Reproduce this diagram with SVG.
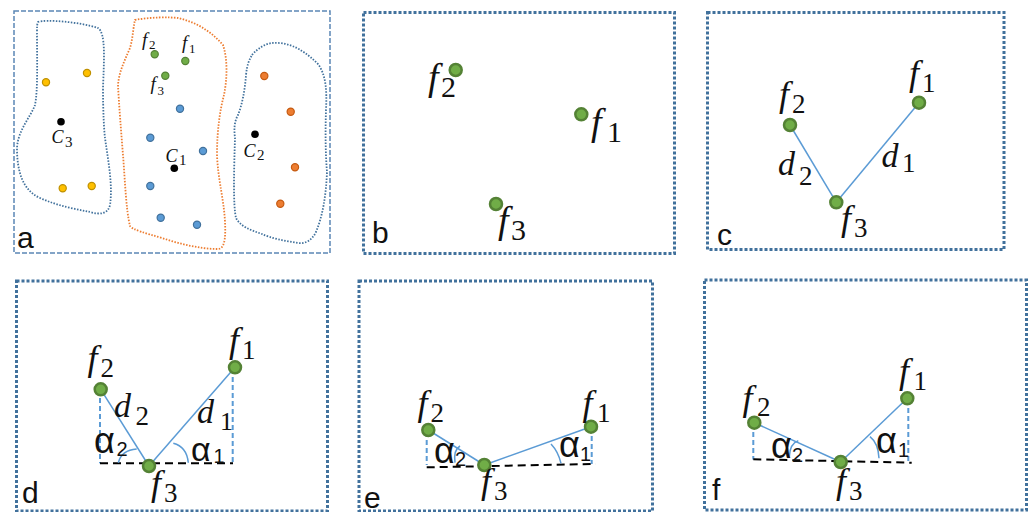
<svg xmlns="http://www.w3.org/2000/svg" width="1032" height="512" viewBox="0 0 1032 512">
<style>
.bg{fill:#fff}
.mf{font-family:"Liberation Serif",serif;font-style:italic;fill:#111}
.sb{font-family:"Liberation Serif",serif;fill:#111}
.al{font-family:"Liberation Sans",sans-serif;fill:#111}
.pl{font-family:"Liberation Sans",sans-serif;font-size:30px;fill:#111}
.frame{fill:none;stroke:#41719C;stroke-width:3;stroke-dasharray:3 2}
.framea{fill:none;stroke:#5B87B5;stroke-width:1.5;stroke-dasharray:5 2}
.pt{fill:#70AD47;stroke:#548235;stroke-width:2.5}
.pa{stroke-width:1.2}
.edge{stroke:#5B9BD5;stroke-width:1.5;fill:none}
.vd{stroke:#5B9BD5;stroke-width:2;stroke-dasharray:5 3}
.hd{stroke:#000;stroke-width:2;stroke-dasharray:8 5}
.arc{fill:none;stroke:#5B9BD5;stroke-width:1.5}
.blobb{fill:none;stroke:#41719C;stroke-width:1.8;stroke-dasharray:1.5 1.5}
.blobo{fill:none;stroke:#ED7D31;stroke-width:1.8;stroke-dasharray:1.5 1.5}
.y{fill:#FFC000;stroke:#BF9000}
.bl{fill:#5B9BD5;stroke:#41719C}
.o{fill:#ED7D31;stroke:#C55A11}
.g{fill:#70AD47;stroke:#548235}
.k{fill:#000}
</style>
<rect class="bg" x="0" y="0" width="1032" height="512"/>

<!-- Panel a -->
<g id="panel-a">
<rect class="framea" x="14" y="11" width="316" height="242"/>
<path class="blobb" d="M38,22 C45,19 80,22 98,28 C106,33 104,60 103,88 C103,110 104,130 105,138 C108,160 113,185 110,205 C108,214 100,215 90,212 C75,209 58,206 40,198 C22,190 17,170 17,148 C18,130 30,118 35,105 C38,90 37,60 37,32 C37,27 37,24 38,22 Z"/>
<path class="blobo" d="M135,20 C150,17 170,17 178,18 C195,22 210,30 223,45 C228,60 227,80 224,95 C220,110 217,130 217,155 C218,180 224,200 225,222 C226,240 224,249 218,249 C200,249 180,244 162,238 C145,233 133,230 130,226 C126,210 125,180 123,155 C121,130 119,105 118,85 C119,72 124,62 130,48 C133,38 133,28 135,20 Z"/>
<path class="blobb" d="M252,55 C258,48 265,44 272,43 C285,42 300,46 318,64 C326,75 327,90 326,110 C325,140 326,160 327,172 C326,195 323,215 316,232 C312,240 306,244 298,243 C285,241 270,238 262,234 C250,230 240,226 236,218 C233,205 234,170 235,138 C234,130 234,122 238,115 C242,105 245,90 246,75 C247,65 249,60 252,55 Z"/>
<g id="a-dots">
<circle class="y pa" cx="46" cy="82.3" r="3.6"/>
<circle class="y pa" cx="87" cy="73" r="3.6"/>
<circle class="y pa" cx="62.7" cy="188.3" r="3.6"/>
<circle class="y pa" cx="91.7" cy="186" r="3.6"/>
<circle class="bl pa" cx="180" cy="108.7" r="3.6"/>
<circle class="bl pa" cx="150.3" cy="137.7" r="3.6"/>
<circle class="bl pa" cx="203" cy="151" r="3.6"/>
<circle class="bl pa" cx="150.3" cy="186" r="3.6"/>
<circle class="bl pa" cx="160.7" cy="217.7" r="3.6"/>
<circle class="bl pa" cx="197" cy="224.7" r="3.6"/>
<circle class="o pa" cx="264.3" cy="76" r="3.6"/>
<circle class="o pa" cx="290.7" cy="111.7" r="3.6"/>
<circle class="o pa" cx="295" cy="167.3" r="3.6"/>
<circle class="o pa" cx="280.3" cy="203.7" r="3.6"/>
</g>
<g id="a-f2"><circle class="g pa" cx="154.7" cy="54.3" r="3.6"/><text class="mf" x="142" y="46" font-size="19">f</text><text class="sb" x="149" y="48.5" font-size="13">2</text></g>
<g id="a-f1"><circle class="g pa" cx="185.3" cy="61" r="3.6"/><text class="mf" x="182" y="49" font-size="19">f</text><text class="sb" x="189" y="53" font-size="13">1</text></g>
<g id="a-f3"><circle class="g pa" cx="165.3" cy="75.7" r="3.6"/><text class="mf" x="150.5" y="90" font-size="19">f</text><text class="sb" x="157.5" y="94.5" font-size="13">3</text></g>
<g id="a-c3"><circle class="k" cx="61" cy="121.7" r="3.8"/><text class="mf" x="51.5" y="143" font-size="18">C</text><text class="sb" x="65" y="147" font-size="15">3</text></g>
<g id="a-c1"><circle class="k" cx="174.3" cy="168.3" r="3.8"/><text class="mf" x="165.5" y="161.5" font-size="18">C</text><text class="sb" x="179" y="165" font-size="15">1</text></g>
<g id="a-c2"><circle class="k" cx="255" cy="134.3" r="3.8"/><text class="mf" x="243.5" y="156.5" font-size="18">C</text><text class="sb" x="257" y="160" font-size="15">2</text></g>
<text class="pl" x="17" y="248">a</text>
</g>

<!-- Panel b -->
<g id="panel-b">
<rect class="frame" x="363.5" y="12.5" width="311" height="241"/>
<text class="pl" x="372" y="243">b</text>
<g id="b-f2"><circle class="pt" cx="455.7" cy="70" r="6"/><text class="mf" x="428" y="90" font-size="38">f</text><text class="sb" x="441" y="96.5" font-size="30">2</text></g>
<g id="b-f1"><circle class="pt" cx="581.3" cy="114.3" r="6"/><text class="mf" x="591" y="135" font-size="38">f</text><text class="sb" x="607" y="142" font-size="30">1</text></g>
<g id="b-f3"><circle class="pt" cx="496" cy="204" r="6"/><text class="mf" x="498" y="233" font-size="38">f</text><text class="sb" x="511" y="240" font-size="30">3</text></g>
</g>

<!-- Connectors -->
<g id="connectors">
<line class="edge" x1="790" y1="125" x2="836.3" y2="202.3"/>
<line class="edge" x1="836.3" y1="202.3" x2="919" y2="102.7"/>

<line class="vd" x1="100" y1="390" x2="100" y2="463.3"/>
<line class="vd" x1="232.7" y1="369" x2="232.7" y2="463.3"/>
<line class="hd" x1="100" y1="463.3" x2="233" y2="463.3"/>
<line class="edge" x1="100.7" y1="389.3" x2="149" y2="466"/>
<line class="edge" x1="149" y1="466" x2="235" y2="367.3"/>
<path class="arc" d="M118.3,462.7 Q121.7,450 136.7,449"/>
<path class="arc" d="M188.3,462.7 Q186.7,446.7 173.3,443.3"/>

<line class="vd" x1="426.7" y1="432" x2="426.7" y2="465"/>
<line class="vd" x1="591.7" y1="428" x2="591.7" y2="464"/>
<line class="hd" x1="426.7" y1="467.3" x2="595.7" y2="464"/>
<line class="edge" x1="428.3" y1="430" x2="484.3" y2="465"/>
<line class="edge" x1="484.3" y1="465" x2="591" y2="426.7"/>
<path class="arc" d="M455,462.7 Q453.3,450 460,446"/>
<path class="arc" d="M561,463.3 Q558.3,451.7 551,444"/>

<line class="vd" x1="753.3" y1="424" x2="753.3" y2="459.5"/>
<line class="vd" x1="908.3" y1="400" x2="908.3" y2="462.5"/>
<line class="hd" x1="753.3" y1="459.3" x2="911.7" y2="462.7"/>
<line class="edge" x1="754.3" y1="422.7" x2="840.7" y2="462"/>
<line class="edge" x1="840.7" y1="462" x2="907.3" y2="398.3"/>
<path class="arc" d="M789.3,456.7 Q790,443.3 798.3,440.7"/>
<path class="arc" d="M879,458.3 Q878.3,443.3 870,436.7"/>
</g>

<!-- Panel c -->
<g id="panel-c">
<rect class="frame" x="707.5" y="12.5" width="296.5" height="237"/>
<text class="pl" x="717" y="245">c</text>
<g id="c-f2"><circle class="pt" cx="790" cy="125" r="6"/><text class="mf" x="779" y="106" font-size="36">f</text><text class="sb" x="792" y="113" font-size="27">2</text></g>
<g id="c-f1"><circle class="pt" cx="919" cy="102.7" r="6"/><text class="mf" x="909" y="85" font-size="36">f</text><text class="sb" x="922" y="92" font-size="27">1</text></g>
<g id="c-f3"><circle class="pt" cx="836.3" cy="202.3" r="6"/><text class="mf" x="841" y="230" font-size="36">f</text><text class="sb" x="854" y="236.5" font-size="27">3</text></g>
<text class="mf" x="778" y="175" font-size="34">d</text><text class="sb" x="799" y="185" font-size="27">2</text>
<text class="mf" x="881.5" y="166.5" font-size="34">d</text><text class="sb" x="902" y="172" font-size="27">1</text>
</g>

<!-- Panel d -->
<g id="panel-d">
<rect class="frame" x="16.5" y="281" width="311" height="230"/>
<text class="pl" x="22" y="503">d</text>
<g id="d-f2"><circle class="pt" cx="100.7" cy="389.3" r="6"/><text class="mf" x="87.5" y="370" font-size="36">f</text><text class="sb" x="100.5" y="376.5" font-size="27">2</text></g>
<g id="d-f1"><circle class="pt" cx="235" cy="367.3" r="6"/><text class="mf" x="229" y="352" font-size="36">f</text><text class="sb" x="242" y="358.5" font-size="27">1</text></g>
<g id="d-f3"><circle class="pt" cx="149" cy="466" r="6"/><text class="mf" x="151" y="495" font-size="36">f</text><text class="sb" x="164" y="501.5" font-size="27">3</text></g>
<text class="mf" x="114" y="416.5" font-size="34">d</text><text class="sb" x="135.5" y="425" font-size="27">2</text>
<text class="mf" x="197" y="423" font-size="34">d</text><text class="sb" x="220" y="429.5" font-size="26">1</text>
<text class="al" x="94" y="453.3" font-size="36">α</text><text class="al" x="116.5" y="456" font-size="20">2</text>
<text class="al" x="191" y="461" font-size="34">α</text><text class="al" x="213.5" y="463" font-size="20">1</text>
</g>

<!-- Panel e -->
<g id="panel-e">
<rect class="frame" x="359" y="281" width="293.5" height="230"/>
<text class="pl" x="364" y="508">e</text>
<g id="e-f2"><circle class="pt" cx="428.3" cy="430" r="6"/><text class="mf" x="417.5" y="415" font-size="36">f</text><text class="sb" x="430.5" y="421.5" font-size="27">2</text></g>
<g id="e-f1"><circle class="pt" cx="591" cy="426.7" r="6"/><text class="mf" x="582.5" y="415" font-size="36">f</text><text class="sb" x="597" y="421.5" font-size="27">1</text></g>
<g id="e-f3"><circle class="pt" cx="484.3" cy="465" r="6"/><text class="mf" x="481" y="493" font-size="36">f</text><text class="sb" x="494" y="500" font-size="27">3</text></g>
<text class="al" x="434" y="463.3" font-size="36">α</text><text class="al" x="455" y="466" font-size="20">2</text>
<text class="al" x="559" y="456.7" font-size="36">α</text><text class="al" x="580" y="460.5" font-size="20">1</text>
</g>

<!-- Panel f -->
<g id="panel-f">
<rect class="frame" x="704.5" y="280" width="322" height="230"/>
<text class="pl" x="712" y="500">f</text>
<g id="f-f2"><circle class="pt" cx="754.3" cy="422.7" r="6"/><text class="mf" x="742.5" y="410" font-size="36">f</text><text class="sb" x="757" y="415.5" font-size="27">2</text></g>
<g id="f-f1"><circle class="pt" cx="907.3" cy="398.3" r="6"/><text class="mf" x="899" y="383" font-size="36">f</text><text class="sb" x="913.5" y="390" font-size="27">1</text></g>
<g id="f-f3"><circle class="pt" cx="840.7" cy="462" r="6"/><text class="mf" x="836" y="493" font-size="36">f</text><text class="sb" x="849" y="500" font-size="27">3</text></g>
<text class="al" x="771" y="458.3" font-size="36">α</text><text class="al" x="792" y="462" font-size="20">2</text>
<text class="al" x="876" y="453.3" font-size="36">α</text><text class="al" x="898" y="457" font-size="20">1</text>
</g>
</svg>
